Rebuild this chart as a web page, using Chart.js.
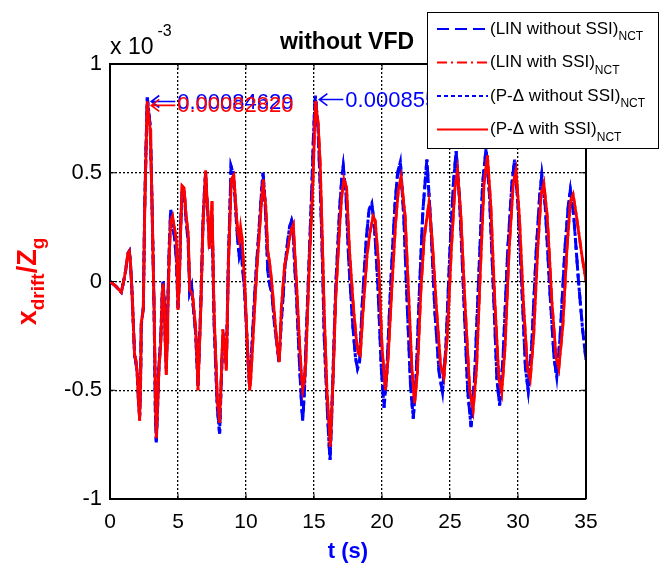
<!DOCTYPE html>
<html lang="en">
<head>
<meta charset="UTF-8">
<title>without VFD</title>
<script src="https://cdn.jsdelivr.net/npm/chart.js"></script>
<style>
  body { margin: 0; background: #fff; }
  #chart { display: block; }
</style>
</head>
<body>
<canvas id="chart" width="667" height="565"></canvas>
<script>
// values are x10^-3 (drift / Zg), time in s
const tWithout = [0,0.4,0.83,1.0,1.15,1.32,1.42,1.5,1.62,1.81,1.9,2.0,2.1,2.18,2.25,2.3,2.45,2.55,2.65,2.74,2.85,2.95,3.0,3.09,3.24,3.33,3.4,3.5,3.6,3.72,3.85,3.9,4.0,4.07,4.14,4.2,4.25,4.35,4.46,4.55,4.65,4.75,4.88,5.0,5.1,5.2,5.3,5.45,5.6,5.75,5.86,6.0,6.1,6.3,6.4,6.47,6.55,6.67,6.84,6.95,7.03,7.1,7.2,7.3,7.4,7.5,7.58,7.65,7.78,7.89,8.06,8.15,8.3,8.45,8.55,8.62,8.7,8.8,8.9,9.05,9.2,9.3,9.4,9.5,9.6,9.7,9.9,10.1,10.25,10.35,10.5,10.65,10.78,11.0,11.15,11.25,11.35,11.45,11.6,11.75,11.9,12.1,12.3,12.42,12.6,12.75,12.85,13.0,13.2,13.35,13.45,13.6,13.7,13.95,14.1,14.17,14.3,14.4,14.55,14.7,14.85,14.95,15.05,15.1,15.2,15.3,15.45,15.55,15.65,15.75,15.95,16.1,16.18,16.3,16.4,16.6,16.9,17.05,17.15,17.35,17.55,17.85,18.05,18.2,18.35,18.55,18.85,19.05,19.25,19.45,19.7,19.95,20.15,20.35,20.65,20.95,21.15,21.35,21.6,21.85,22.1,22.3,22.5,22.75,23.0,23.3,23.6,23.9,24.2,24.45,24.7,25.0,25.25,25.45,25.7,26.0,26.3,26.55,26.8,27.1,27.4,27.65,27.9,28.2,28.45,28.65,28.9,29.25,29.55,29.75,30.0,30.3,30.55,30.75,31.0,31.35,31.6,31.75,32.0,32.35,32.65,32.85,33.1,33.45,33.7,33.85,34.1,34.45,34.75,35.0];
const linWithout = [0,-0.02,-0.05,0.0,0.05,0.13,0.14,0.09,-0.05,-0.34,-0.37,-0.42,-0.56,-0.62,-0.45,-0.20,-0.12,0.34,0.62,0.846,0.78,0.72,0.62,0.36,-0.12,-0.58,-0.74,-0.58,-0.38,-0.28,-0.04,0.0,-0.10,-0.28,-0.40,-0.26,-0.10,0.15,0.33,0.29,0.24,0.20,0.10,-0.12,0.02,0.26,0.42,0.41,0.28,0.18,-0.05,-0.02,-0.10,-0.24,-0.38,-0.48,-0.33,-0.12,0.28,0.42,0.50,0.40,0.30,0.20,0.24,0.30,0.05,-0.18,-0.40,-0.58,-0.70,-0.52,-0.25,-0.28,-0.38,-0.18,0.08,0.30,0.53,0.50,0.38,0.27,0.18,0.12,0.15,0.10,-0.05,-0.30,-0.47,-0.40,-0.22,-0.05,0.08,0.28,0.42,0.50,0.42,0.30,0.05,-0.02,-0.05,-0.20,-0.30,-0.37,-0.18,-0.05,0.05,0.15,0.25,0.28,0.25,0.05,-0.05,-0.40,-0.58,-0.64,-0.50,-0.30,-0.05,0.20,0.45,0.65,0.80,0.855,0.78,0.70,0.45,0.25,0.02,-0.25,-0.55,-0.74,-0.82,-0.62,-0.42,-0.02,0.35,0.48,0.53,0.40,0.10,-0.20,-0.35,-0.40,-0.37,-0.10,0.20,0.33,0.36,0.25,-0.02,-0.40,-0.58,-0.42,0.0,0.35,0.50,0.55,0.30,-0.10,-0.48,-0.63,-0.45,-0.05,0.32,0.56,0.25,-0.15,-0.42,-0.51,-0.30,0.15,0.45,0.60,0.38,-0.05,-0.50,-0.67,-0.45,0.0,0.45,0.61,0.40,-0.05,-0.45,-0.57,-0.35,0.15,0.45,0.56,0.35,-0.05,-0.40,-0.50,-0.30,0.15,0.40,0.49,0.35,-0.05,-0.35,-0.44,-0.25,0.15,0.35,0.42,0.30,0.0,-0.22,-0.36];
const pdWithout = linWithout;

const tWith = [0,0.4,0.83,1.0,1.15,1.32,1.42,1.5,1.62,1.81,1.9,2.0,2.1,2.18,2.25,2.3,2.45,2.55,2.65,2.74,2.85,2.95,3.0,3.09,3.24,3.35,3.41,3.5,3.6,3.72,3.85,3.9,4.0,4.07,4.14,4.2,4.25,4.35,4.46,4.6,4.75,4.88,5.0,5.1,5.2,5.3,5.45,5.6,5.75,5.86,6.0,6.1,6.3,6.4,6.47,6.55,6.67,6.84,6.95,7.03,7.1,7.2,7.3,7.4,7.5,7.58,7.65,7.78,7.89,8.06,8.15,8.3,8.45,8.55,8.62,8.7,8.8,8.92,9.1,9.2,9.3,9.4,9.5,9.6,9.7,9.9,10.1,10.27,10.35,10.5,10.65,10.78,11.0,11.15,11.27,11.35,11.45,11.6,11.75,11.9,12.1,12.3,12.45,12.6,12.75,12.85,13.0,13.2,13.35,13.48,13.6,13.7,13.95,14.1,14.17,14.3,14.4,14.55,14.7,14.85,14.95,15.05,15.12,15.2,15.3,15.45,15.55,15.65,15.75,15.95,16.1,16.2,16.3,16.4,16.6,16.9,17.05,17.2,17.4,17.6,17.9,18.1,18.25,18.4,18.6,18.9,19.1,19.35,19.5,19.75,20.0,20.25,20.45,20.75,21.0,21.2,21.4,21.7,21.95,22.2,22.4,22.6,22.85,23.1,23.45,23.7,24.0,24.3,24.55,24.8,25.1,25.35,25.55,25.8,26.1,26.45,26.7,26.95,27.2,27.5,27.75,28.0,28.3,28.6,28.8,29.05,29.35,29.65,29.85,30.1,30.4,30.7,30.9,31.15,31.45,31.7,31.9,32.15,32.5,32.8,33.0,33.3,33.6,33.85,34.05,34.3,34.7,35.0];
const linWith = [0,-0.02,-0.05,0.0,0.05,0.13,0.14,0.09,-0.05,-0.34,-0.36,-0.42,-0.55,-0.64,-0.45,-0.19,-0.13,0.32,0.60,0.828,0.76,0.70,0.61,0.35,-0.11,-0.55,-0.72,-0.56,-0.40,-0.30,-0.05,-0.01,-0.11,-0.30,-0.43,-0.28,-0.14,0.10,0.28,0.30,0.24,0.19,-0.13,0.0,0.25,0.44,0.43,0.30,0.22,-0.04,-0.05,-0.08,-0.22,-0.35,-0.50,-0.35,-0.14,0.27,0.40,0.51,0.42,0.32,0.15,0.25,0.37,0.10,-0.14,-0.35,-0.54,-0.65,-0.50,-0.22,-0.30,-0.41,-0.20,0.06,0.25,0.47,0.49,0.40,0.30,0.22,0.19,0.25,0.20,0.0,-0.30,-0.50,-0.45,-0.28,-0.10,0.04,0.24,0.38,0.47,0.40,0.35,0.14,0.08,-0.01,-0.16,-0.30,-0.37,-0.12,0.0,0.08,0.12,0.20,0.24,0.26,0.12,0.01,-0.30,-0.45,-0.50,-0.45,-0.37,-0.10,0.15,0.35,0.51,0.72,0.83,0.78,0.73,0.55,0.33,0.10,-0.14,-0.50,-0.65,-0.76,-0.60,-0.45,-0.07,0.27,0.40,0.47,0.43,0.15,-0.12,-0.26,-0.33,-0.34,-0.14,0.12,0.22,0.30,0.28,0.08,-0.30,-0.50,-0.35,0.0,0.27,0.42,0.48,0.30,-0.05,-0.40,-0.56,-0.42,-0.05,0.20,0.36,0.18,-0.12,-0.38,-0.44,-0.25,0.15,0.42,0.51,0.30,-0.10,-0.50,-0.59,-0.40,0.0,0.45,0.58,0.35,-0.10,-0.45,-0.51,-0.30,0.15,0.45,0.51,0.30,-0.10,-0.40,-0.45,-0.25,0.15,0.40,0.45,0.30,-0.10,-0.35,-0.40,-0.20,0.15,0.37,0.40,0.30,0.12,0.0];
const pdWith = linWith;

// peak annotations
const peakTimes = [2.74, 2.74, 15.1];
const peakValues = [0.846, 0.828, 0.855];
const peakTexts = ['0.00084629', '0.00082820', '0.00085514'];
const peakColors = ['#0000ff', '#ff0000', '#0000ff'];

const xTicks = [0, 5, 10, 15, 20, 25, 30, 35];
const yTicks = [-1, -0.5, 0, 0.5, 1];

const FONT = 'Arial, "Liberation Sans", sans-serif';

function pts(ts, vs) {
    return ts.map((t, i) => ({ x: t, y: vs[i] }));
}

const seriesInfo = [
    { name: '(LIN without SSI)', color: '#0000ff', dash: [12, 6], width: 3 },
    { name: '(LIN with SSI)', color: '#ff0000', dash: [10, 4, 2, 4], width: 2.8 },
    { name: '(P-\u0394 without SSI)', color: '#0000ff', dash: [4, 3], width: 3 },
    { name: '(P-\u0394 with SSI)', color: '#ff0000', dash: [], width: 2.8 }
];

const decor = {
    id: 'decor',
    afterDatasetsDraw(chart) {
        const { ctx, chartArea: a, scales: { x, y } } = chart;
        ctx.save();
        // top and right frame
        ctx.strokeStyle = '#000';
        ctx.lineWidth = 2;
        ctx.beginPath();
        ctx.moveTo(a.left, a.top);
        ctx.lineTo(a.right, a.top);
        ctx.lineTo(a.right, a.bottom);
        ctx.stroke();
        // inward tick marks
        ctx.lineWidth = 1;
        ctx.beginPath();
        xTicks.forEach(v => {
            const px = x.getPixelForValue(v);
            ctx.moveTo(px, a.bottom); ctx.lineTo(px, a.bottom - 5);
            ctx.moveTo(px, a.top); ctx.lineTo(px, a.top + 5);
        });
        yTicks.forEach(v => {
            const py = y.getPixelForValue(v);
            ctx.moveTo(a.left, py); ctx.lineTo(a.left + 5, py);
            ctx.moveTo(a.right, py); ctx.lineTo(a.right - 5, py);
        });
        ctx.stroke();

        // peak labels with arrow
        ctx.font = '22px ' + FONT;
        ctx.textAlign = 'left';
        ctx.textBaseline = 'middle';
        peakTimes.forEach((t, i) => {
            const px = x.getPixelForValue(t) + 4;
            const py = y.getPixelForValue(peakValues[i]) + 4;
            ctx.strokeStyle = peakColors[i];
            ctx.fillStyle = peakColors[i];
            ctx.lineWidth = 1.6;
            ctx.beginPath();
            ctx.moveTo(px, py); ctx.lineTo(px + 24, py);
            ctx.moveTo(px + 8, py - 6); ctx.lineTo(px, py); ctx.lineTo(px + 8, py + 6);
            ctx.stroke();
            ctx.fillText(peakTexts[i], px + 26, py + 1);
        });
        ctx.restore();
    },
    afterDraw(chart) {
        const { ctx, chartArea: a } = chart;
        ctx.save();
        ctx.fillStyle = '#000';
        // title
        ctx.font = 'bold 23px ' + FONT;
        ctx.textAlign = 'center';
        ctx.textBaseline = 'alphabetic';
        ctx.fillText('without VFD', (a.left + a.right) / 2 - 1, 49);
        // multiplier
        ctx.textAlign = 'left';
        ctx.font = '23px ' + FONT;
        ctx.fillText('x 10', a.left, 54);
        const w10 = ctx.measureText('x 10').width;
        ctx.font = '16px ' + FONT;
        ctx.fillText('-3', a.left + w10 + 4, 36);

        // x axis title
        ctx.fillStyle = '#0000ff';
        ctx.font = 'bold 22px ' + FONT;
        ctx.textAlign = 'center';
        ctx.fillText('t (s)', (a.left + a.right) / 2, 558);

        // y axis title, rotated
        ctx.save();
        ctx.translate(36, (a.top + a.bottom) / 2);
        ctx.rotate(-Math.PI / 2);
        ctx.fillStyle = '#ff0000';
        const parts = [
            { s: 'x', f: 'bold 27px ', dy: 0 },
            { s: 'drift', f: 'bold 19px ', dy: 8 },
            { s: '/Z', f: 'bold 27px ', dy: 0 },
            { s: 'g', f: 'bold 19px ', dy: 8 }
        ];
        let total = 0;
        parts.forEach(p => { ctx.font = p.f + FONT; p.w = ctx.measureText(p.s).width; total += p.w; });
        let cx = -total / 2;
        ctx.textAlign = 'left';
        parts.forEach(p => {
            ctx.font = p.f + FONT;
            ctx.fillText(p.s, cx, p.dy);
            cx += p.w;
        });
        ctx.restore();

        // legend box
        const lx = 427, ly = 12, lw = 231, lh = 136;
        ctx.fillStyle = '#fff';
        ctx.fillRect(lx, ly, lw, lh);
        ctx.strokeStyle = '#000';
        ctx.lineWidth = 1;
        ctx.strokeRect(lx + 0.5, ly + 0.5, lw, lh);
        seriesInfo.forEach((s, i) => {
            const ry = ly + 17 + i * 33.5;
            ctx.strokeStyle = s.color;
            ctx.lineWidth = 1.8;
            ctx.setLineDash(s.dash);
            ctx.beginPath();
            ctx.moveTo(lx + 10, ry);
            ctx.lineTo(lx + 61, ry);
            ctx.stroke();
            ctx.setLineDash([]);
            ctx.fillStyle = '#000';
            ctx.textAlign = 'left';
            ctx.textBaseline = 'middle';
            ctx.font = '17px ' + FONT;
            ctx.fillText(s.name, lx + 63, ry);
            const w = ctx.measureText(s.name).width;
            ctx.font = '12px ' + FONT;
            ctx.fillText('NCT', lx + 63 + w, ry + 8);
        });
        ctx.restore();
    }
};

const seriesData = [pts(tWithout, linWithout), pts(tWith, linWith), pts(tWithout, pdWithout), pts(tWith, pdWith)];
const drawOrder = [3, 2, 1, 0];

new Chart(document.getElementById('chart'), {
    type: 'line',
    data: {
        datasets: seriesInfo.map((s, i) => ({
            label: s.name + 'NCT',
            data: seriesData[i],
            borderColor: s.color,
            borderDash: s.dash,
            borderWidth: s.width,
            pointRadius: 0,
            tension: 0,
            fill: false,
            order: drawOrder[i]
        }))
    },
    options: {
        responsive: false,
        animation: false,
        devicePixelRatio: 1,
        layout: { padding: { top: 64, right: 81, left: 0, bottom: 0 } },
        plugins: { legend: { display: false }, tooltip: { enabled: false } },
        scales: {
            x: {
                type: 'linear', min: 0, max: 35,
                afterFit: s => { s.height = 66; },
                afterBuildTicks: s => { s.ticks = xTicks.map(v => ({ value: v })); },
                ticks: { color: '#000', font: { family: FONT, size: 21 }, padding: 11, maxRotation: 0 },
                grid: { color: '#000', lineWidth: 1.3, drawTicks: false },
                border: { display: true, color: '#000', width: 2, dash: [2, 2] }
            },
            y: {
                type: 'linear', min: -1, max: 1,
                afterFit: s => { s.width = 110; },
                afterBuildTicks: s => { s.ticks = yTicks.map(v => ({ value: v })); },
                ticks: { color: '#000', font: { family: FONT, size: 22 }, padding: 8, callback: v => String(v) },
                grid: { color: '#000', lineWidth: 1.3, drawTicks: false },
                border: { display: true, color: '#000', width: 2, dash: [2, 2] }
            }
        }
    },
    plugins: [decor]
});
</script>
</body>
</html>
